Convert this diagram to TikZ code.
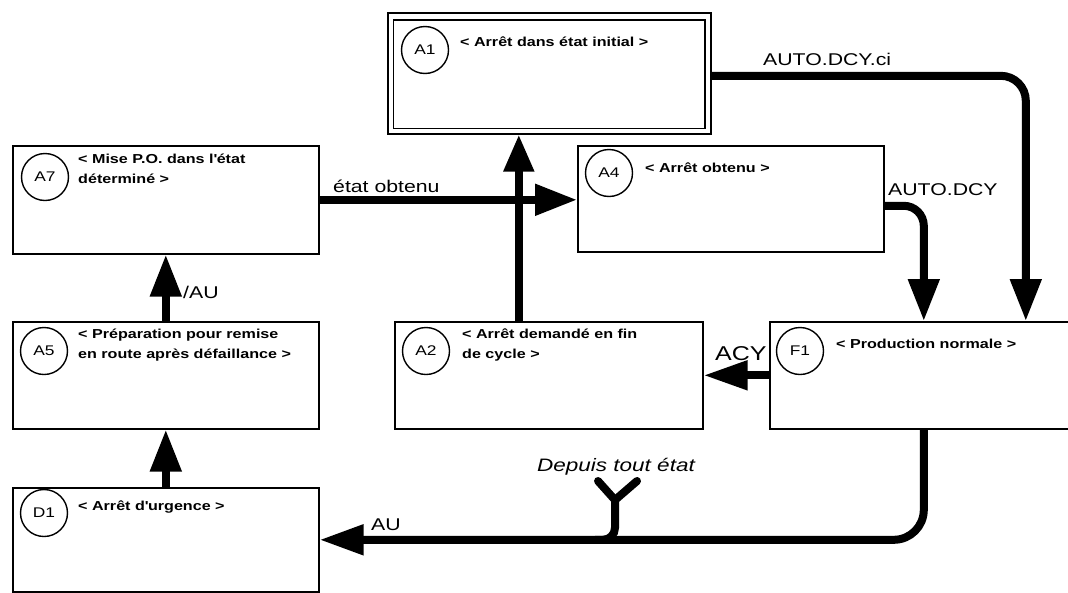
\documentclass[tikz,border=0pt]{standalone}
\usepackage{fontspec}
\setmainfont{Liberation Sans}
\newfontfamily\boxfont{Liberation Sans}[FakeStretch=1.24]
\newfontfamily\lblfont{Liberation Sans}[FakeStretch=1.25]
\usetikzlibrary{arrows.meta,calc}
\begin{document}
\begin{tikzpicture}[x=1pt,y=-1pt,
  box/.style={draw, line width=1.6pt, rectangle, inner sep=0pt, anchor=north west},
  circ/.style={draw, circle, line width=1.4pt, minimum size=47pt, inner sep=0pt,
    font=\boxfont\fontsize{14}{16}\selectfont},
  btext/.style={anchor=base west, inner sep=0pt, align=left,
    font=\boxfont\bfseries\fontsize{13}{20}\selectfont},
  lbl/.style={anchor=base west, inner sep=0pt, font=\lblfont\fontsize{17}{20}\selectfont},
  conn/.style={line width=8pt, -{Triangle[length=42pt,width=30pt]}},
  yline/.style={line width=8pt, line cap=round, line join=round}]
\useasboundingbox (0,0) rectangle (1068,592);
\clip (0,0) rectangle (1068,592);
\fill[white] (0,0) rectangle (1068,592);

% boxes
\node[box, minimum width=323pt, minimum height=121pt] (a1) at (387,12) {};
\draw[line width=1.6pt] ([shift={(6.5pt,-8pt)}]a1.north west) rectangle ([shift={(-6.5pt,6pt)}]a1.south east);
\node[box, minimum width=306pt, minimum height=108pt] (a7) at (12,145) {};
\node[box, minimum width=306pt, minimum height=106pt] (a4) at (577,145) {};
\node[box, minimum width=306pt, minimum height=107pt] (a5) at (12,321) {};
\node[box, minimum width=308pt, minimum height=107pt] (a2) at (394,321) {};
\node[box, minimum width=308pt, minimum height=107pt] (f1) at (769,321) {};
\node[box, minimum width=306pt, minimum height=104pt] (d1) at (12,487) {};

% circles
\node[circ] (ca1) at (425,50) {A1};
\node[circ] (ca7) at (45,177) {A7};
\node[circ] (ca4) at (609,173) {A4};
\node[circ] (ca5) at (44,351) {A5};
\node[circ] (ca2) at (426,351) {A2};
\node[circ] (cf1) at (800,351) {F1};
\node[circ] (cd1) at (44,513) {D1};

% box titles
\node[btext] (ta1) at (460,46) {< Arrêt dans état initial >};
\node[btext] (ta7) at (78,163) {\begin{tabular}[t]{@{}l@{}}< Mise P.O. dans l\textquotesingle état\\déterminé >\end{tabular}};
\node[btext] (ta4) at (645,172) {< Arrêt obtenu >};
\node[btext] (ta5) at (78,338) {\begin{tabular}[t]{@{}l@{}}< Préparation pour remise\\en route après défaillance >\end{tabular}};
\node[btext] (ta2) at (462,338) {\begin{tabular}[t]{@{}l@{}}< Arrêt demandé en fin\\de cycle >\end{tabular}};
\node[btext] (tf1) at (836,348) {< Production normale >};
\node[btext] (td1) at (78,510) {< Arrêt d\textquotesingle urgence >};

% connectors
\draw[conn] (a7.east) -- (a7.east -| a4.west);
\draw[line width=8pt, -{Triangle[length=37pt,width=29pt]}] ([xshift=-30pt]a2.north) -- ([xshift=-30pt]a2.north |- a1.south);
\draw[conn, rounded corners=25pt] ([yshift=-2.5pt]a1.east) -| ([xshift=102pt]f1.north);
\draw[conn, rounded corners=20pt] ([yshift=-7pt]a4.east) -| (f1.north);
\draw[line width=8pt, -{Triangle[length=44pt,width=28pt]}] (f1.west) -- (a2.east);
\draw[line width=8pt, -{Triangle[length=44pt,width=29pt]}, rounded corners=30pt] (f1.south) |- (d1.east);
\draw[conn] (a5.north) -- (a7.south);
\draw[conn] (d1.north) -- (a5.south);

% "Depuis tout etat" junction
\coordinate (yl) at (598,481);
\coordinate (yr) at (637,481);
\coordinate (yc) at (615,500);
\coordinate (jn) at (yc |- d1.east);
\draw[yline] (yl) -- (yc) -- (yr);
\draw[line width=8pt, rounded corners=12pt] (yc) -- (jn) -- ([xshift=-20pt]jn);

% labels
\node[lbl] (l1) at (763,65) {AUTO.DCY.ci};
\node[lbl] (l2) at (888,195) {AUTO.DCY};
\node[lbl] (l3) at (333,192) {état obtenu};
\node[lbl] (l4) at (183,298) {/AU};
\node[lbl, font=\lblfont\fontsize{20}{22}\selectfont] (l5) at (715,360) {ACY};
\node[lbl] (l6) at (371,530) {AU};
\node[lbl, font=\lblfont\itshape\fontsize{18}{20}\selectfont] (l7) at (537,471) {Depuis tout état};
\end{tikzpicture}
\end{document}
